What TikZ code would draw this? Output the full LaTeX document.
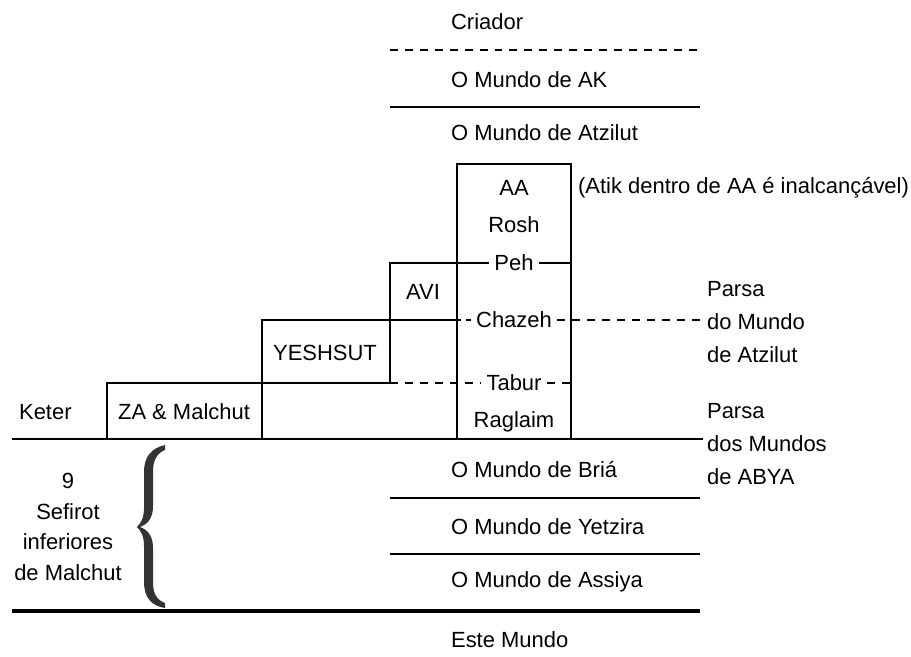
\documentclass[tikz,border=0pt]{standalone}
\usepackage{amsmath}
\usepackage{fontspec}
\setmainfont{Liberation Sans}
\usepackage{tikz}

\tikzset{
  txt/.style={font=\fontsize{12.5}{19}\selectfont, inner sep=1pt, align=center},
  world/.style={txt, anchor=west},
  cut/.style={txt, inner sep=3pt},
  rule/.style={line width=1.1pt},
  dashrule/.style={line width=1.1pt, dash pattern=on 4.5pt off 4pt}
}

\begin{document}
\begin{tikzpicture}[x=0.02cm,y=-0.02cm]
\useasboundingbox (0,0) rectangle (911,656);
% upper worlds
\node[world] (criador) at (449,22) {Criador};
\draw[dashrule] (390,50) -- (700,50);
\node[world] (ak) at (449,80) {O Mundo de AK};
\draw[rule] (390,107) -- (700,107);
\node[world] (atzilut) at (449,133) {O Mundo de Atzilut};
% partzufim
\draw[rule] (457,164) rectangle (571,439);
\node[txt] (aa) at (514,188) {AA};
\node[txt] (rosh) at (514,225) {Rosh};
\node[txt,anchor=west] (atik) at (576,188) {(Atik dentro de AA é inalcançável)};
\node[cut] (peh) at (514,263) {Peh};
\node[cut] (chazeh) at (514,320) {Chazeh};
\node[cut] (tabur) at (514,383) {Tabur};
\node[txt] (raglaim) at (514,422) {Raglaim};
\node[txt] (avi) at (423,292) {AVI};
\node[txt] (yeshsut) at (325,353) {YESHSUT};
\node[txt] (za) at (184,412) {ZA \& Malchut};
\node[txt,anchor=west] (keter) at (17,412) {Keter};
\draw[rule] (390,383) -- (390,263) -- (peh.west);
\draw[rule] (peh.east) -- (571,263);
\draw[rule] (262,439) -- (262,320) -- (461,320);
\draw[rule] (107,439) -- (107,383) -- (390,383);
\draw[dashrule] (390,383) -- (tabur.west);
\draw[dashrule] (tabur.east) -- (571,383);
% parsa
\node[txt,anchor=west,align=left] (parsa1) at (705,322) {Parsa\\do Mundo\\de Atzilut};
\node[txt,anchor=west,align=left] (parsa2) at (705,444) {Parsa\\dos Mundos\\de ABYA};
\coordinate (p1) at (703,320);
\coordinate (p2) at (703,439);
\draw[dashrule] (466,320) -- (chazeh.west);
\draw[dashrule] (chazeh.east) -- (p1);
\draw[line width=1.4pt] (12,439) -- (p2);
% lower worlds
\node[world] (bria) at (449,470) {O Mundo de Briá};
\draw[rule] (390,498) -- (700,498);
\node[world] (yetzira) at (449,527) {O Mundo de Yetzira};
\draw[rule] (390,554) -- (700,554);
\node[world] (assiya) at (449,582) {O Mundo de Assiya};
\draw[line width=2.4pt] (12,611) -- (700,611);
\node[world] (este) at (449,640) {Este Mundo};
% nine lower sefirot
\node[txt,font=\fontsize{12.5}{17.5}\selectfont] (sefirot) at (68,527) {9\\Sefirot\\inferiores\\de Malchut};
\fill[black!80] (165,445) .. controls (152,448) and (144,456) .. (144,472) -- (144,508)
  .. controls (144,518) and (141,523) .. (137,527) .. controls (141,531) and (144,536) .. (144,546)
  -- (144,582) .. controls (144,598) and (152,606) .. (165,608) -- (165,603)
  .. controls (157,600) and (153,594) .. (153,582) -- (153,548)
  .. controls (153,536) and (148,530) .. (140,527) .. controls (148,524) and (153,518) .. (153,506)
  -- (153,472) .. controls (153,460) and (157,453) .. (165,450) -- cycle;
\end{tikzpicture}
\end{document}
